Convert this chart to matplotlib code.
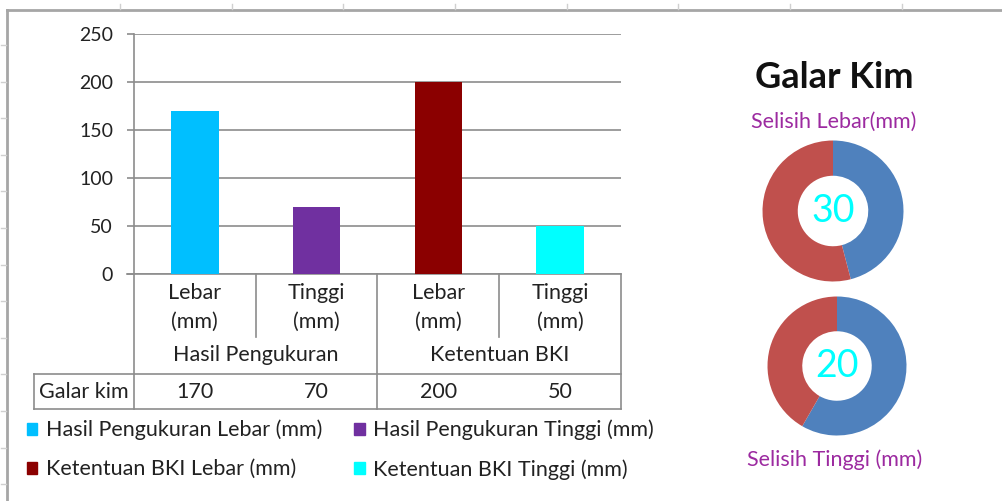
import numpy as np
import matplotlib
matplotlib.use("Agg")
import matplotlib.pyplot as plt
from matplotlib.patches import Patch

plt.rcParams['font.family'] = ['Lato', 'DejaVu Sans']

# Galar kim measurements
groups = ['Hasil Pengukuran', 'Ketentuan BKI']
dims = ['Lebar', 'Tinggi', 'Lebar', 'Tinggi']
unit = '(mm)'
values = [170, 70, 200, 50]
series_names = ['Hasil Pengukuran Lebar (mm)', 'Hasil Pengukuran Tinggi (mm)',
                'Ketentuan BKI Lebar (mm)', 'Ketentuan BKI Tinggi (mm)']
row_label = 'Galar kim'
bar_colors = ['#00BFFF', '#7030A0', '#8B0000', '#00FFFF']

# donuts: measured vs required
lebar_pair = [170, 200]
tinggi_pair = [70, 50]
donut_colors = ['#4F81BD', '#C0504D']

W, H = 1003, 501
fig = plt.figure(figsize=(W / 100, H / 100), dpi=100)


def px_axes(x0, y0, x1, y1, **kw):
    # axes placed by pixel box (top-left origin)
    return fig.add_axes([x0 / W, 1 - y1 / H, (x1 - x0) / W, (y1 - y0) / H], **kw)


# sheet background: border lines and faint row/column marks
bg = px_axes(0, 0, W, H)
bg.set_xlim(0, W)
bg.set_ylim(H, 0)
bg.axis('off')
bg.plot([7, W], [10, 10], color='#A6A6A6', lw=2)
bg.plot([7, 7], [10, H], color='#A6A6A6', lw=2)
for x in np.arange(120, W, 111.7):
    bg.plot([x, x], [4, 9], color='#D0D0D0', lw=1)
for y in np.arange(45, H, 36.6):
    bg.plot([1, 6], [y, y], color='#D0D0D0', lw=1)

# bar chart
ax = px_axes(134, 34, 621, 274)
x = np.arange(len(values))
bars = ax.bar(x, values, width=0.39, color=bar_colors, zorder=3)
ax.set_xlim(-0.5, len(values) - 0.5)
ax.set_ylim(0, 250)
ax.set_yticks(np.arange(0, 251, 50))
ax.set_xticks([])
ax.grid(axis='y', color='#8C8C8C', lw=1.2, zorder=0)
for s in ['top', 'right', 'bottom']:
    ax.spines[s].set_visible(False)
ax.spines['left'].set_color('#8C8C8C')
ax.spines['left'].set_linewidth(1.2)
ax.tick_params(axis='y', length=5, width=1.2, color='#8C8C8C', pad=10,
               labelsize=14, labelcolor='#222222')

# data-table under the axis (offsets in px below the zero line)
u = 250 / 240.0
line_kw = dict(color='#8C8C8C', lw=1.2, clip_on=False)
ax.plot([-0.5 - 7 / 121.75, 3.5], [0, 0], **line_kw)
for b in [-0.5, 1.5, 3.5]:
    ax.plot([b, b], [0, -135 * u], **line_kw)
for b in [0.5, 2.5]:
    ax.plot([b, b], [0, -63 * u], **line_kw)
x_left = -0.5 - 100 / 121.75
ax.plot([x_left, 3.5], [-100 * u, -100 * u], **line_kw)
ax.plot([x_left, 3.5], [-135 * u, -135 * u], **line_kw)
ax.plot([x_left, x_left], [-100 * u, -135 * u], **line_kw)

txt_kw = dict(ha='center', va='center', fontsize=15.5, color='#222222')
for i, lab in enumerate(dims):
    ax.text(i, -19 * u, lab, **txt_kw)
    ax.text(i, -48 * u, unit, **txt_kw)
    ax.text(i, -118 * u, str(values[i]), **txt_kw)
for g, name in enumerate(groups):
    ax.text(2 * g + 0.5, -81 * u, name, **txt_kw)
ax.text((x_left - 0.5) / 2, -118 * u, row_label, **txt_kw)

# legend
handles = [Patch(color=c) for c in bar_colors]
order = [0, 2, 1, 3]
fig.legend([handles[i] for i in order], [series_names[i] for i in order],
           ncol=2, loc='upper left', bbox_to_anchor=(16 / W, 1 - 409 / H),
           frameon=False, fontsize=15.5, handlelength=0.48, handleheight=0.48,
           handletextpad=0.4, columnspacing=1.5, labelspacing=0.88,
           borderpad=0, labelcolor='#222222')

# donut charts
fig.text(834 / W, 1 - 78 / H, 'Galar Kim', ha='center', va='center',
         fontsize=26, fontweight='bold', color='#111111')
fig.text(834 / W, 1 - 122 / H, 'Selisih Lebar(mm)', ha='center', va='center',
         fontsize=15.5, color='#9C2AA0')
fig.text(835 / W, 1 - 460 / H, 'Selisih Tinggi (mm)', ha='center', va='center',
         fontsize=15.5, color='#9C2AA0')


def donut(cx, cy, r, pair):
    dax = px_axes(cx - r, cy - r, cx + r, cy + r)
    dax.pie(pair, colors=donut_colors, startangle=90, counterclock=False,
            radius=1, wedgeprops=dict(width=0.5, linewidth=0))
    dax.set_xlim(-1, 1)
    dax.set_ylim(-1, 1)
    dax.set_aspect('equal')
    dax.axis('off')
    dax.text(0, 0, str(abs(pair[1] - pair[0])), ha='center', va='center',
             fontsize=27, color='#00FFFF')


donut(833, 211, 70.5, lebar_pair)
donut(837, 366, 69.5, tinggi_pair)

fig.savefig('out.png', dpi=100)
